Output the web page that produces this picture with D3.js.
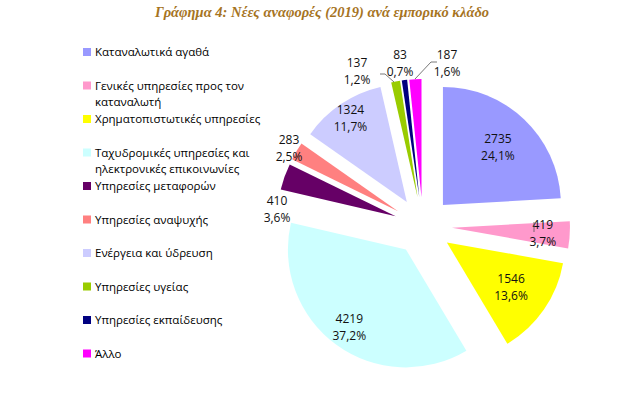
<!DOCTYPE html>
<html>
<head>
<meta charset="utf-8">
<script src="https://cdn.jsdelivr.net/npm/d3@7"></script>
<style>
  body { margin: 0; background: #fff; }
  svg { display: block; }
  text { font-family: "Open Sans", "Noto Sans", sans-serif; }
</style>
</head>
<body>
<svg id="chart" width="631" height="395"></svg>
<script>
// data
var categories = [
  "Καταναλωτικά αγαθά",
  "Γενικές υπηρεσίες προς τον καταναλωτή",
  "Χρηματοπιστωτικές υπηρεσίες",
  "Ταχυδρομικές υπηρεσίες και ηλεκτρονικές επικοινωνίες",
  "Υπηρεσίες μεταφορών",
  "Υπηρεσίες αναψυχής",
  "Ενέργεια και ύδρευση",
  "Υπηρεσίες υγείας",
  "Υπηρεσίες εκπαίδευσης",
  "Άλλο"
];
var legendLines = [
  ["Καταναλωτικά αγαθά"],
  ["Γενικές υπηρεσίες προς τον", "καταναλωτή"],
  ["Χρηματοπιστωτικές υπηρεσίες"],
  ["Ταχυδρομικές υπηρεσίες και", "ηλεκτρονικές επικοινωνίες"],
  ["Υπηρεσίες μεταφορών"],
  ["Υπηρεσίες αναψυχής"],
  ["Ενέργεια και ύδρευση"],
  ["Υπηρεσίες υγείας"],
  ["Υπηρεσίες εκπαίδευσης"],
  ["Άλλο"]
];
var values = [2735, 419, 1546, 4219, 410, 283, 1324, 137, 83, 187];
var percentLabels = ["24,1%", "3,7%", "13,6%", "37,2%", "3,6%", "2,5%", "11,7%", "1,2%", "0,7%", "1,6%"];
var colors = ["#9999FF", "#FF99CC", "#FFFF00", "#CCFFFF", "#660066", "#FF8080", "#CCCCFF", "#99CC00", "#000080", "#FF00FF"];

// label placement: distance from the slice tip (inside) or fixed spot (outside)
var labelDist = [80, 91, 78, 96, null, null, 101, null, null, null];
var outsideLabels = { 4: [277, 201], 5: [289, 140], 7: [357, 63], 8: [400, 55], 9: [447, 55] };

var svg = d3.select("#chart");
var cx = 423, cy = 226, r = 118, explode = 29;

svg.append("text")
  .attr("x", 322).attr("y", 17)
  .attr("text-anchor", "middle")
  .style("font-family", "'Liberation Serif', serif")
  .style("font-style", "italic")
  .style("font-weight", "bold")
  .style("font-size", "14.5px")
  .attr("fill", "#A6741F")
  .text("Γράφημα 4: Νέες αναφορές (2019) ανά εμπορικό κλάδο");

var pie = d3.pie().sort(null).value(d => d);
var arcs = pie(values);
var arc = d3.arc().innerRadius(0).outerRadius(r);

var g = svg.append("g").attr("transform", `translate(${cx},${cy})`);

function tip(d, dist) {
  var a = (d.startAngle + d.endAngle) / 2;
  return [Math.sin(a) * dist, -Math.cos(a) * dist];
}

g.selectAll("path")
  .data(arcs)
  .enter()
  .append("path")
  .attr("transform", d => `translate(${tip(d, explode)})`)
  .attr("d", arc)
  .attr("fill", (d, i) => colors[i]);

// labels
arcs.forEach(function(d, i) {
  var x, y;
  if (labelDist[i] != null) {
    var p = tip(d, explode + labelDist[i]);
    x = cx + p[0]; y = cy + p[1] - 8;
  } else {
    x = outsideLabels[i][0]; y = outsideLabels[i][1];
  }
  var t = svg.append("text")
    .attr("text-anchor", "middle")
    .style("font-size", "12px")
    .attr("fill", "#111");
  t.append("tspan").attr("x", x).attr("y", y + 4).text(values[i]);
  t.append("tspan").attr("x", x).attr("y", y + 21).text(percentLabels[i]);
});

// leader lines for the thin slices
var leaders = [
  [[394, 82], [385, 74], [380, 74]],
  [[415, 79], [431, 62], [437, 62]]
];
leaders.forEach(function(pts) {
  svg.append("path")
    .attr("d", d3.line()(pts))
    .attr("fill", "none")
    .attr("stroke", "#555")
    .attr("stroke-width", 0.8);
});
svg.append("line")
  .attr("x1", 534).attr("x2", 534).attr("y1", 222).attr("y2", 232)
  .attr("stroke", "#555").attr("stroke-width", 0.8);

// legend
var legend = svg.append("g");
legendLines.forEach(function(lines, i) {
  var y = 52 + i * 33.5;
  legend.append("rect")
    .attr("x", 83).attr("y", y - 4)
    .attr("width", 8).attr("height", 8)
    .attr("fill", colors[i]);
  lines.forEach(function(s, j) {
    legend.append("text")
      .attr("x", 95).attr("y", y + 4 + j * 16)
      .style("font-size", "11.5px")
      .attr("fill", "#000")
      .text(s);
  });
});
</script>
</body>
</html>
